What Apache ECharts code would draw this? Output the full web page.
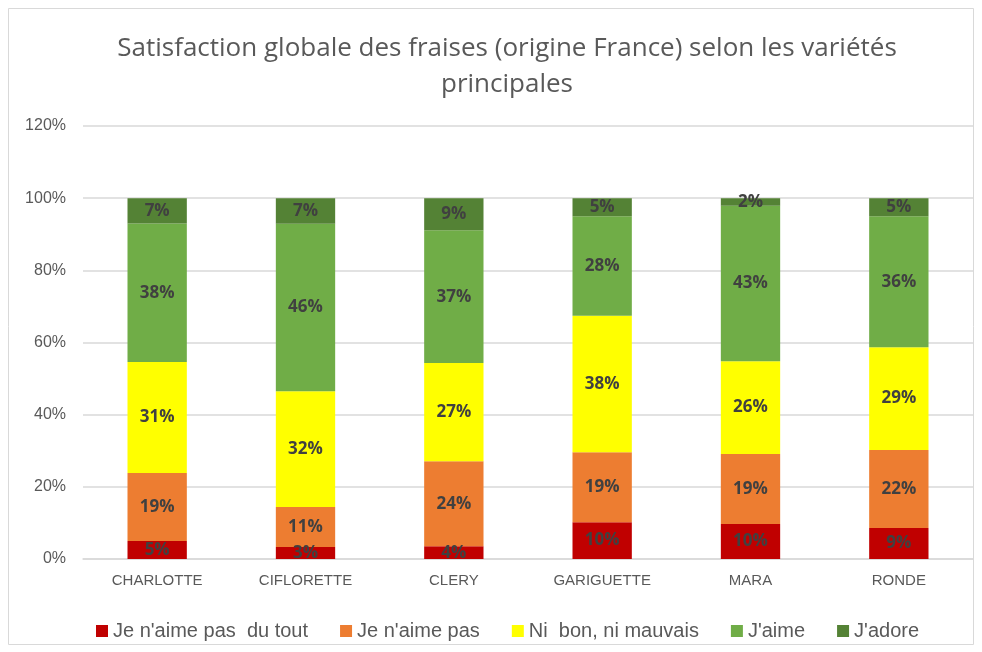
<!DOCTYPE html>
<html>
<head>
<meta charset="utf-8">
<script src="https://cdn.jsdelivr.net/npm/echarts@6/dist/echarts.min.js"></script>
<style>
  html, body { margin: 0; padding: 0; background: #fff; }
  #main { width: 982px; height: 652px; }
</style>
</head>
<body>
<div id="main"></div>
<script>
// variétés
var varietes = ['CHARLOTTE', 'CIFLORETTE', 'CLERY', 'GARIGUETTE', 'MARA', 'RONDE'];

// parts en %
var pasDuTout = [5, 3.3, 3.5, 10.2, 9.7, 8.6];
var aimePas = [18.8, 11.1, 23.6, 19.4, 19.4, 21.6];
var niBonNiMauvais = [30.8, 32.1, 27.2, 37.8, 25.7, 28.5];
var aime = [38.4, 46.4, 36.8, 27.6, 43.1, 36.3];
var adore = [7.0, 7.1, 8.9, 5.0, 2.1, 5.0];

var yTicks = [0, 20, 40, 60, 80, 100, 120];

var chart = echarts.init(document.getElementById('main'));

var mkSerie = function(name, data, color){
  return {
    name: name,
    type: 'bar',
    stack: 'total',
    barWidth: '40%',
    data: data,
    itemStyle: { color: color },
    label: {
      show: true,
      position: 'inside',
      color: '#404040',
      fontSize: 17,
      fontWeight: 'bold',
      fontFamily: 'Open Sans',
      formatter: function(p){ return Math.round(p.value) + '%'; }
    }
  };
};

var option = {
  animation: false,
  backgroundColor: '#fff',
  title: {
    text: 'Satisfaction globale des fraises (origine France) selon les variétés\nprincipales',
    left: 502,
    textAlign: 'center',
    top: 26,
    textStyle: {
      color: '#595959',
      fontSize: 26,
      fontWeight: 'normal',
      fontFamily: 'Open Sans',
      lineHeight: 36
    }
  },
  legend: {
    top: 616,
    left: 91,
    itemWidth: 12,
    itemHeight: 12,
    itemGap: 32,
    icon: 'rect',
    textStyle: { color: '#595959', fontSize: 20, fontFamily: 'Liberation Sans' },
    data: ["Je n'aime pas  du tout", "Je n'aime pas", 'Ni  bon, ni mauvais', "J'aime", "J'adore"]
  },
  grid: { left: 83, right: 9, top: 126, bottom: 93 },
  xAxis: {
    type: 'category',
    data: varietes,
    axisLine: { lineStyle: { color: '#d9d9d9', width: 1.5 } },
    axisTick: { show: false },
    axisLabel: { color: '#595959', fontSize: 15, fontFamily: 'Liberation Sans', margin: 14 }
  },
  yAxis: {
    type: 'value',
    min: yTicks[0],
    max: yTicks[yTicks.length - 1],
    interval: 20,
    axisLine: { show: false },
    axisTick: { show: false },
    splitLine: { lineStyle: { color: '#d9d9d9', width: 1.5 } },
    axisLabel: { color: '#595959', fontSize: 16, fontFamily: 'Liberation Sans', margin: 17, formatter: '{value}%' }
  },
  graphic: [{
    type: 'rect',
    shape: { x: 8.5, y: 8.5, width: 965, height: 636 },
    style: { fill: 'none', stroke: '#d9d9d9', lineWidth: 1 },
    silent: true
  }],
  series: [
    mkSerie("Je n'aime pas  du tout", pasDuTout, '#c00000'),
    mkSerie("Je n'aime pas", aimePas, '#ed7d31'),
    mkSerie('Ni  bon, ni mauvais', niBonNiMauvais, '#ffff00'),
    mkSerie("J'aime", aime, '#70ad47'),
    mkSerie("J'adore", adore, '#548235')
  ]
};

chart.setOption(option);
</script>
</body>
</html>
